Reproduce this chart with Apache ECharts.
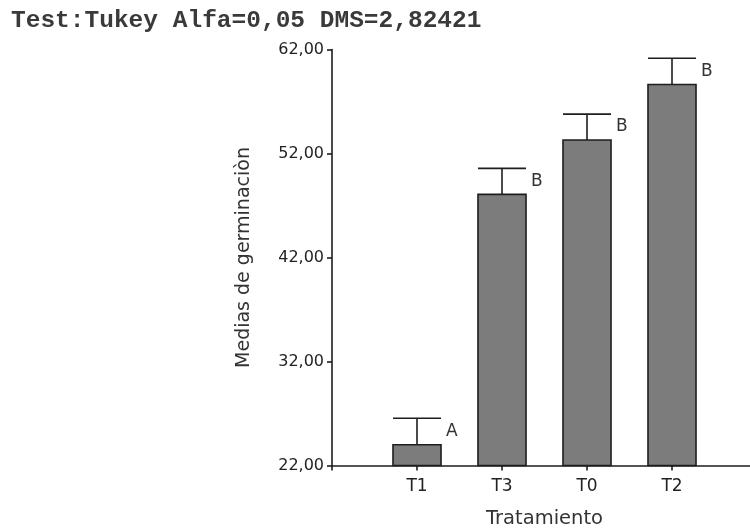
<!DOCTYPE html>
<html>
<head>
<meta charset="utf-8">
<script src="https://cdn.jsdelivr.net/npm/echarts@6/dist/echarts.min.js"></script>
<style>
  html, body { margin: 0; padding: 0; background: #fff; }
  #chart { width: 750px; height: 529px; }
</style>
</head>
<body>
<div id="chart"></div>
<script>
// Germination means per treatment (Tukey test groups)
const categories = ['T1', 'T3', 'T0', 'T2'];
const means = [24.0, 48.07, 53.3, 58.64];
const stdErrors = [2.55, 2.5, 2.49, 2.52];
const groups = ['A', 'B', 'B', 'B'];
const yTicks = [22, 32, 42, 52, 62];

const barUnits = 0.565;   // bar width in x-axis units
const SANS = 'DejaVu Sans';

const rows = categories.map((c, i) => [i + 1, means[i], stdErrors[i], groups[i]]);

const chart = echarts.init(document.getElementById('chart'), null, { renderer: 'canvas' });

function renderBar(params, api) {
  const x = api.value(0);
  const m = api.value(1);
  const e = api.value(2);
  const letter = groups[params.dataIndex];
  const top = api.coord([x, m]);
  const base = api.coord([x, yTicks[0]]);
  const cap = api.coord([x, m + e]);
  const half = api.size([barUnits, 0])[0] / 2;
  const lab = api.coord([x + 0.41, m + e / 2]);
  return {
    type: 'group',
    children: [
      {
        type: 'rect',
        shape: { x: top[0] - half, y: top[1], width: half * 2, height: base[1] - top[1] },
        style: { fill: '#7c7c7c', stroke: '#1e1e1e', lineWidth: 1.6 }
      },
      {
        type: 'line',
        shape: { x1: top[0], y1: top[1], x2: cap[0], y2: cap[1] },
        style: { stroke: '#1e1e1e', lineWidth: 1.6 }
      },
      {
        type: 'line',
        shape: { x1: cap[0] - half, y1: cap[1], x2: cap[0] + half, y2: cap[1] },
        style: { stroke: '#1e1e1e', lineWidth: 1.6 }
      },
      {
        type: 'text',
        style: {
          text: letter, x: lab[0], y: lab[1],
          align: 'center', verticalAlign: 'middle',
          font: '17px "' + SANS + '"', fill: '#333'
        }
      }
    ]
  };
}

chart.setOption({
  animation: false,
  backgroundColor: '#fff',
  graphic: [{
    type: 'text',
    left: 11, top: 8,
    style: {
      text: 'Test:Tukey Alfa=0,05 DMS=2,82421',
      font: 'bold 24.5px "Liberation Mono"',
      fill: '#3a3a3a'
    }
  }],
  grid: {
    left: 332, top: 49.5, width: 425, bottom: 63.5,
    containLabel: false, outerBoundsMode: 'none'
  },
  xAxis: {
    type: 'value',
    min: 0, max: 5, interval: 1,
    name: 'Tratamiento',
    nameLocation: 'middle',
    nameGap: 43,
    nameTextStyle: { fontFamily: SANS, fontSize: 19.5, color: '#333' },
    splitLine: { show: false },
    axisLine: { show: true, onZero: false, lineStyle: { color: '#1e1e1e', width: 1.6 } },
    axisTick: { show: true, length: 5, lineStyle: { color: '#1e1e1e', width: 1.6 } },
    axisLabel: {
      margin: 13,
      fontFamily: SANS, fontSize: 17, color: '#222',
      showMinLabel: true, showMaxLabel: true,
      formatter: v => (v >= 1 && v <= categories.length) ? categories[v - 1] : ''
    }
  },
  yAxis: {
    type: 'value',
    min: yTicks[0], max: yTicks[yTicks.length - 1], interval: 10,
    name: 'Medias de germinaciòn',
    nameLocation: 'middle',
    nameGap: 78,
    nameTextStyle: { fontFamily: SANS, fontSize: 19, color: '#333' },
    splitLine: { show: false },
    axisLine: { show: true, lineStyle: { color: '#1e1e1e', width: 1.6 } },
    axisTick: { show: true, length: 5, lineStyle: { color: '#1e1e1e', width: 1.6 } },
    axisLabel: {
      margin: 8,
      fontFamily: SANS, fontSize: 16, color: '#222',
      formatter: v => v.toFixed(2).replace('.', ',')
    }
  },
  series: [{
    type: 'custom',
    renderItem: renderBar,
    data: rows,
    encode: { x: 0, y: 1 },
    clip: false
  }]
});
</script>
</body>
</html>
